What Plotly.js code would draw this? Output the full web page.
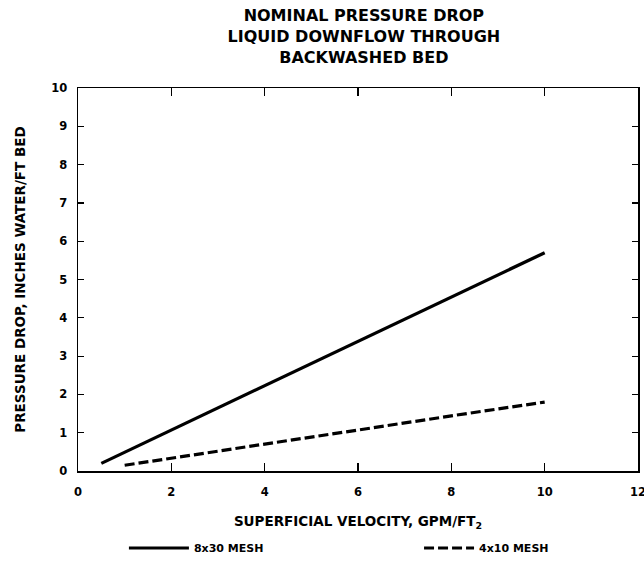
<!DOCTYPE html>
<html>
<head>
<meta charset="utf-8">
<script src="https://cdn.plot.ly/plotly-3.0.1.min.js"></script>
<style>html,body{margin:0;padding:0;background:#fff;}</style>
</head>
<body>
<div id="chart" style="width:644px;height:561px;"></div>
<script>
// Data
const velocity8x30 = [0.5, 2, 4, 6, 8, 10];
const drop8x30 = [0.2, 1.07, 2.23, 3.38, 4.55, 5.7];
const velocity4x10 = [1, 2, 4, 6, 8, 10];
const drop4x10 = [0.15, 0.33, 0.7, 1.07, 1.44, 1.8];
const seriesNames = ["8x30 MESH", "4x10 MESH"];
const xTicks = [0, 2, 4, 6, 8, 10, 12];
const yTicks = [0, 1, 2, 3, 4, 5, 6, 7, 8, 9, 10];

const FONT = "DejaVu Sans, Verdana, sans-serif";

const traces = [
  {x: velocity8x30, y: drop8x30, name: seriesNames[0], mode: "lines",
   line: {color: "#000", width: 3.2}, legend: "legend"},
  {x: velocity4x10, y: drop4x10, name: seriesNames[1], mode: "lines",
   line: {color: "#000", width: 3.2, dash: "10px,4px"}, legend: "legend2"}
];

const axisCommon = {
  showgrid: false, zeroline: false, showline: true, linecolor: "#000", linewidth: 1.5,
  mirror: "ticks", ticks: "inside", tickcolor: "#000", tickwidth: 1.2, automargin: false,
  ticklabeloverflow: "allow",
  tickfont: {family: FONT, size: 11.5, color: "#000", weight: "bold"}
};

const legendCommon = {
  orientation: "h", yanchor: "middle", y: -0.201, xanchor: "left",
  font: {family: FONT, size: 11, color: "#000", weight: "bold"},
  bgcolor: "rgba(0,0,0,0)", borderwidth: 0
};

const layout = {
  width: 644, height: 561,
  margin: {l: 78, r: 6, t: 88, b: 90, autoexpand: false},
  paper_bgcolor: "#fff", plot_bgcolor: "#fff",
  title: {
    text: "<b>NOMINAL PRESSURE DROP<br>LIQUID DOWNFLOW THROUGH<br>BACKWASHED BED</b>",
    font: {family: FONT, size: 16, color: "#000"},
    x: 0.565, xanchor: "center", y: 1 - 21 / 561, yanchor: "middle"
  },
  xaxis: Object.assign({}, axisCommon, {
    range: [0, 12], tickvals: xTicks, ticklen: 8, ticklabelstandoff: 10,
    title: {text: "<b>SUPERFICIAL VELOCITY, GPM/FT<sub>2</sub></b>", font: {family: FONT, size: 13.5, color: "#000"}, standoff: 18}
  }),
  yaxis: Object.assign({}, axisCommon, {
    range: [0, 10], tickvals: yTicks, ticklen: 6, ticklabelstandoff: 7,
    title: {text: "<b>PRESSURE DROP, INCHES WATER/FT BED</b>", font: {family: FONT, size: 13.5, color: "#000"}, standoff: 22}
  }),
  showlegend: true,
  legend: Object.assign({}, legendCommon, {x: 0.082, itemwidth: 60}),
  legend2: Object.assign({}, legendCommon, {x: 0.609, itemwidth: 50})
};

Plotly.newPlot("chart", traces, layout, {displayModeBar: false, staticPlot: true});
</script>
</body>
</html>
